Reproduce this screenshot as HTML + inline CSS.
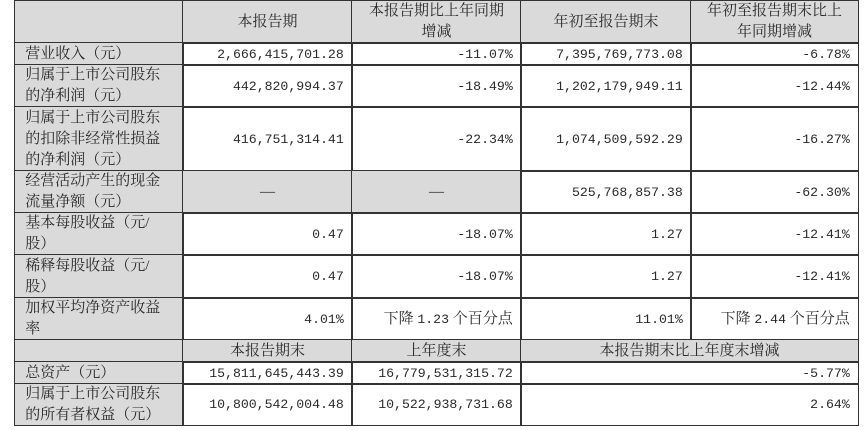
<!DOCTYPE html>
<html><head><meta charset="utf-8"><style>
body{margin:0;background:#fff;width:865px;height:430px;position:relative;overflow:hidden;font-family:"Liberation Serif","Noto Serif CJK SC",serif;color:#2a2a2a;font-size:15px}
.c{position:absolute;box-sizing:border-box;border:1.5px solid #333;display:flex;align-items:center;line-height:21px;margin:-0.75px 0 0 -0.75px}
.g{background:#dadada}
.l{padding-left:10px;justify-content:flex-start}
.r{justify-content:flex-end;padding-right:8px;text-align:right;font-family:"Liberation Mono","Noto Serif CJK SC",monospace;font-size:13.2px}
.r.t{font-family:"Liberation Serif","Noto Serif CJK SC",serif;font-size:15px}
.t span{font-family:"Liberation Mono",monospace;font-size:13.2px}
.m{justify-content:center;text-align:center}
</style></head><body>
<div class="c g" style="left:15px;top:1px;width:169.5px;height:43.5px"></div>
<div class="c g m" style="left:183px;top:1px;width:170.5px;height:43.5px">本报告期</div>
<div class="c g m" style="left:352px;top:1px;width:170.5px;height:43.5px">本报告期比上年同期<br>增减</div>
<div class="c g m" style="left:521px;top:1px;width:171.5px;height:43.5px">年初至报告期末</div>
<div class="c g m" style="left:691px;top:1px;width:168.5px;height:43.5px">年初至报告期末比上<br>年同期增减</div>

<div class="c g l" style="left:15px;top:43px;width:169.5px;height:23.5px">营业收入（元）</div>
<div class="c r" style="left:183px;top:43px;width:170.5px;height:23.5px">2,666,415,701.28</div>
<div class="c r" style="left:352px;top:43px;width:170.5px;height:23.5px">-11.07%</div>
<div class="c r" style="left:521px;top:43px;width:171.5px;height:23.5px">7,395,769,773.08</div>
<div class="c r" style="left:691px;top:43px;width:168.5px;height:23.5px">-6.78%</div>

<div class="c g l" style="left:15px;top:65px;width:169.5px;height:43.5px">归属于上市公司股东<br>的净利润（元）</div>
<div class="c r" style="left:183px;top:65px;width:170.5px;height:43.5px">442,820,994.37</div>
<div class="c r" style="left:352px;top:65px;width:170.5px;height:43.5px">-18.49%</div>
<div class="c r" style="left:521px;top:65px;width:171.5px;height:43.5px">1,202,179,949.11</div>
<div class="c r" style="left:691px;top:65px;width:168.5px;height:43.5px">-12.44%</div>

<div class="c g l" style="left:15px;top:107px;width:169.5px;height:65.5px">归属于上市公司股东<br>的扣除非经常性损益<br>的净利润（元）</div>
<div class="c r" style="left:183px;top:107px;width:170.5px;height:65.5px">416,751,314.41</div>
<div class="c r" style="left:352px;top:107px;width:170.5px;height:65.5px">-22.34%</div>
<div class="c r" style="left:521px;top:107px;width:171.5px;height:65.5px">1,074,509,592.29</div>
<div class="c r" style="left:691px;top:107px;width:168.5px;height:65.5px">-16.27%</div>

<div class="c g l" style="left:15px;top:171px;width:169.5px;height:43.5px">经营活动产生的现金<br>流量净额（元）</div>
<div class="c g m" style="left:183px;top:171px;width:170.5px;height:43.5px">—</div>
<div class="c g m" style="left:352px;top:171px;width:170.5px;height:43.5px">—</div>
<div class="c r" style="left:521px;top:171px;width:171.5px;height:43.5px">525,768,857.38</div>
<div class="c r" style="left:691px;top:171px;width:168.5px;height:43.5px">-62.30%</div>

<div class="c g l" style="left:15px;top:213px;width:169.5px;height:43.5px">基本每股收益（元/<br>股）</div>
<div class="c r" style="left:183px;top:213px;width:170.5px;height:43.5px">0.47</div>
<div class="c r" style="left:352px;top:213px;width:170.5px;height:43.5px">-18.07%</div>
<div class="c r" style="left:521px;top:213px;width:171.5px;height:43.5px">1.27</div>
<div class="c r" style="left:691px;top:213px;width:168.5px;height:43.5px">-12.41%</div>

<div class="c g l" style="left:15px;top:255px;width:169.5px;height:44.5px">稀释每股收益（元/<br>股）</div>
<div class="c r" style="left:183px;top:255px;width:170.5px;height:44.5px">0.47</div>
<div class="c r" style="left:352px;top:255px;width:170.5px;height:44.5px">-18.07%</div>
<div class="c r" style="left:521px;top:255px;width:171.5px;height:44.5px">1.27</div>
<div class="c r" style="left:691px;top:255px;width:168.5px;height:44.5px">-12.41%</div>

<div class="c g l" style="left:15px;top:298px;width:169.5px;height:43.5px">加权平均净资产收益<br>率</div>
<div class="c r" style="left:183px;top:298px;width:170.5px;height:43.5px">4.01%</div>
<div class="c r t" style="left:352px;top:298px;width:170.5px;height:43.5px">下降&nbsp;<span>1.23</span>&nbsp;个百分点</div>
<div class="c r" style="left:521px;top:298px;width:171.5px;height:43.5px">11.01%</div>
<div class="c r t" style="left:691px;top:298px;width:168.5px;height:43.5px">下降&nbsp;<span>2.44</span>&nbsp;个百分点</div>

<div class="c g" style="left:15px;top:340px;width:169.5px;height:23.5px"></div>
<div class="c g m" style="left:183px;top:340px;width:170.5px;height:23.5px">本报告期末</div>
<div class="c g m" style="left:352px;top:340px;width:170.5px;height:23.5px">上年度末</div>
<div class="c g m" style="left:521px;top:340px;width:338.5px;height:23.5px">本报告期末比上年度末增减</div>

<div class="c g l" style="left:15px;top:362px;width:169.5px;height:23.5px">总资产（元）</div>
<div class="c r" style="left:183px;top:362px;width:170.5px;height:23.5px">15,811,645,443.39</div>
<div class="c r" style="left:352px;top:362px;width:170.5px;height:23.5px">16,779,531,315.72</div>
<div class="c r" style="left:521px;top:362px;width:338.5px;height:23.5px">-5.77%</div>

<div class="c g l" style="left:15px;top:384px;width:169.5px;height:42.5px">归属于上市公司股东<br>的所有者权益（元）</div>
<div class="c r" style="left:183px;top:384px;width:170.5px;height:42.5px">10,800,542,004.48</div>
<div class="c r" style="left:352px;top:384px;width:170.5px;height:42.5px">10,522,938,731.68</div>
<div class="c r" style="left:521px;top:384px;width:338.5px;height:42.5px">2.64%</div>
</body></html>
